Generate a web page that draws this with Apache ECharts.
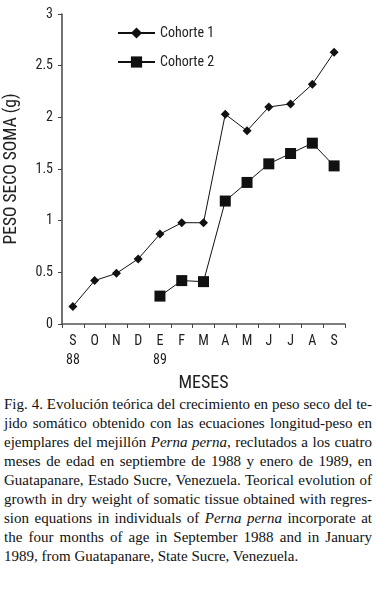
<!DOCTYPE html>
<html>
<head>
<meta charset="utf-8">
<script src="https://cdn.jsdelivr.net/npm/echarts@6/dist/echarts.min.js"></script>
<style>
  html, body { margin: 0; padding: 0; background: #fff; }
  #chart { width: 377px; height: 392px; }
  #caption {
    position: absolute; left: 4px; top: 395px; width: 368px;
    font-family: "Liberation Serif", "DejaVu Serif", serif;
    font-size: 15px; line-height: 19px; color: #111;
  }
  #caption div { text-align: justify; text-align-last: justify; white-space: nowrap; }
  #caption div.last { text-align-last: left; }
</style>
</head>
<body>
<div id="chart"></div>
<div id="caption">
  <div>Fig. 4. Evolución teórica del crecimiento en peso seco del te-</div>
  <div>jido somático obtenido con las ecuaciones longitud-peso en</div>
  <div>ejemplares del mejillón <i>Perna perna</i>, reclutados a los cuatro</div>
  <div>meses de edad en septiembre de 1988 y enero de 1989, en</div>
  <div>Guatapanare, Estado Sucre, Venezuela. Teorical evolution of</div>
  <div>growth in dry weight of somatic tissue obtained with regres-</div>
  <div>sion equations in individuals of <i>Perna perna</i> incorporate at</div>
  <div>the four months of age in September 1988 and in January</div>
  <div class="last">1989, from Guatapanare, State Sucre, Venezuela.</div>
</div>
<script>
    // meses (sep 88 - sep 89)
    var months = ['S', 'O', 'N', 'D', 'E', 'F', 'M', 'A', 'M', 'J', 'J', 'A', 'S'];
    var years = ['88', '', '', '', '89', '', '', '', '', '', '', '', ''];
    var cohorte1 = [0.17, 0.42, 0.49, 0.63, 0.87, 0.98, 0.98, 2.03, 1.87, 2.10, 2.13, 2.32, 2.63];
    var cohorte2 = [null, null, null, null, 0.27, 0.42, 0.41, 1.19, 1.37, 1.55, 1.65, 1.75, 1.53];
    var yTicks = [0, 0.5, 1, 1.5, 2, 2.5, 3];

    var narrow = '"Roboto Condensed", "Liberation Sans Narrow", Roboto, sans-serif';

    var myChart = echarts.init(document.getElementById('chart'));
    var option = {
        animation: false,
        textStyle: { fontFamily: narrow, color: '#222' },
        legend: {
            orient: 'vertical',
            left: 117,
            top: 26,
            padding: 0,
            itemWidth: 37,
            itemHeight: 14,
            itemGap: 15,
            textStyle: { fontFamily: narrow, fontSize: 14, color: '#222' },
            data: ['Cohorte 1', 'Cohorte 2']
        },
        grid: {
            left: 62,
            right: 32,
            top: 14,
            bottom: 68,
            containLabel: false,
            outerBoundsMode: 'none'
        },
        xAxis: {
            type: 'category',
            data: months,
            boundaryGap: true,
            name: 'MESES',
            nameLocation: 'middle',
            nameGap: 40,
            nameTextStyle: { fontFamily: narrow, fontSize: 18, color: '#222' },
            axisLine: { lineStyle: { color: '#555', width: 1.5 } },
            axisTick: { show: true, length: 4, lineStyle: { color: '#444' } },
            axisLabel: {
                interval: 0,
                margin: 8,
                fontSize: 14,
                lineHeight: 19,
                color: '#222',
                formatter: function (v, i) {
                    return years[i] ? v + '\n' + years[i] : v + '\n ';
                }
            }
        },
        yAxis: {
            type: 'value',
            min: yTicks[0],
            max: yTicks[yTicks.length - 1],
            interval: 0.5,
            name: 'PESO SECO SOMA (g)',
            nameLocation: 'middle',
            nameGap: 41,
            nameTextStyle: { fontFamily: narrow, fontSize: 17.5, color: '#222' },
            axisLine: { show: true, lineStyle: { color: '#444', width: 1.5 } },
            axisTick: { show: true, length: 4, lineStyle: { color: '#444' } },
            axisLabel: { margin: 9, fontSize: 14, color: '#222' },
            splitLine: { show: false }
        },
        series: [
            {
                name: 'Cohorte 1',
                type: 'line',
                data: cohorte1,
                symbol: 'diamond',
                symbolSize: 9,
                itemStyle: { color: '#111' },
                lineStyle: { color: '#111', width: 1 }
            },
            {
                name: 'Cohorte 2',
                type: 'line',
                data: cohorte2,
                symbol: 'rect',
                symbolSize: 11,
                itemStyle: { color: '#111' },
                lineStyle: { color: '#111', width: 1 }
            }
        ]
    };
    myChart.setOption(option);
</script>
</body>
</html>
